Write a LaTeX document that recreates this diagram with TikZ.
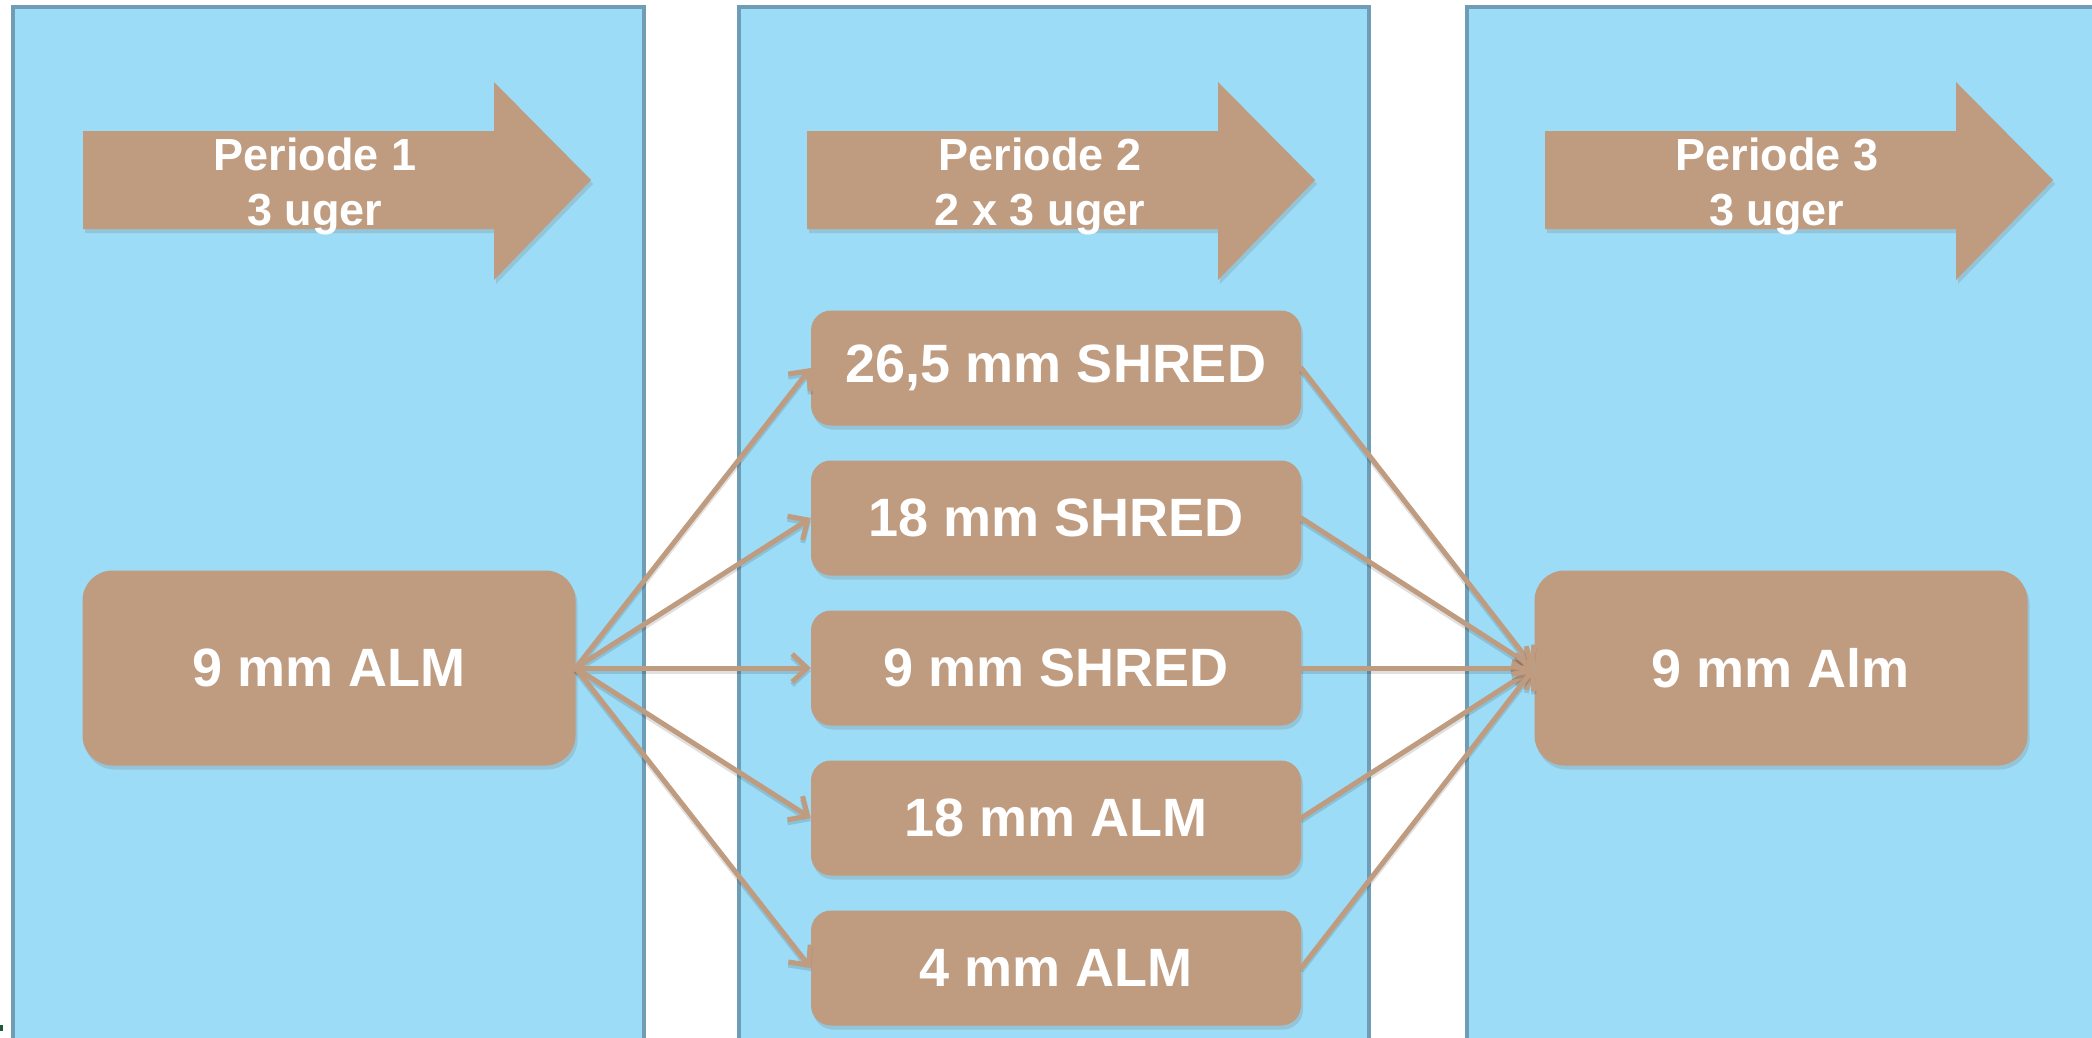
\documentclass[tikz,border=0pt]{standalone}
\usepackage{fontspec}
\setmainfont{Liberation Sans}
\usetikzlibrary{arrows.meta,shadows}
\definecolor{panelfill}{HTML}{9CDCF6}
\definecolor{panelline}{HTML}{6E9DB5}
\definecolor{tanc}{HTML}{BF9B80}
\definecolor{markgreen}{HTML}{1E5A3A}
\tikzset{
  panel/.style={fill=panelfill, draw=panelline, line width=3.5pt},
  periodarrow/.style={fill=tanc, drop shadow={opacity=0.25, shadow xshift=2pt, shadow yshift=-4pt}},
  periodtext/.style={text=white, align=center, font=\bfseries\fontsize{45}{55}\selectfont, inner sep=0pt},
  box/.style={fill=tanc, text=white, inner sep=0pt, anchor=center,
    font=\bfseries\fontsize{54}{60}\selectfont,
    drop shadow={opacity=0.25, shadow xshift=2pt, shadow yshift=-4pt}},
  midbox/.style={box, rounded corners=20pt, minimum width=490pt, minimum height=115pt},
  bigbox/.style={box, rounded corners=30pt, minimum width=493pt, minimum height=195pt},
  conn/.style={draw=tanc, line width=5pt, line cap=round,
    -{Straight Barb[length=15pt,width=28pt,line width=5pt]},
    preaction={draw=black, opacity=0.12, line width=5pt, transform canvas={yshift=-3pt}}},
}
\begin{document}
\begin{tikzpicture}[x=1pt,y=-1pt]
\useasboundingbox (0,0) rectangle (2092,1037);
% panels
\draw[panel] (13,7) rectangle (644,1046);
\draw[panel] (739,7) rectangle (1369,1046);
\draw[panel] (1467,7) rectangle (2100,1046);
% small mark
\fill[markgreen] (0,1025) rectangle (3,1031);
% period arrows
\foreach \L/\n in {83/1,807/2,1545/3}{
  \path[periodarrow] (\L,131) -- ({\L+411},131) -- ({\L+411},82) -- ({\L+508},180)
     -- ({\L+411},280) -- ({\L+411},229) -- (\L,229) -- cycle;
}
\node[periodtext] (p1) at (315,186) {Periode 1\\3 uger};
\node[periodtext] (p2) at (1040,186) {Periode 2\\2 x 3 uger};
\node[periodtext] (p3) at (1777,186) {Periode 3\\3 uger};
% nodes
\node[bigbox] (a) at (329,668) {9 mm ALM};
\node[midbox] (m1) at (1056,368) {26,5 mm SHRED};
\node[midbox] (m2) at (1056,518) {18 mm SHRED};
\node[midbox] (m3) at (1056,668) {9 mm SHRED};
\node[midbox] (m4) at (1056,818) {18 mm ALM};
\node[midbox] (m5) at (1056,968) {4 mm ALM};
\node[bigbox] (b) at (1781,668) {9 mm Alm};
% connectors
\foreach \m in {m1,m2,m3,m4,m5}{
  \draw[conn] (a.east) -- (\m.west);
  \draw[conn] (\m.east) -- (b.west);
}
\end{tikzpicture}
\end{document}
